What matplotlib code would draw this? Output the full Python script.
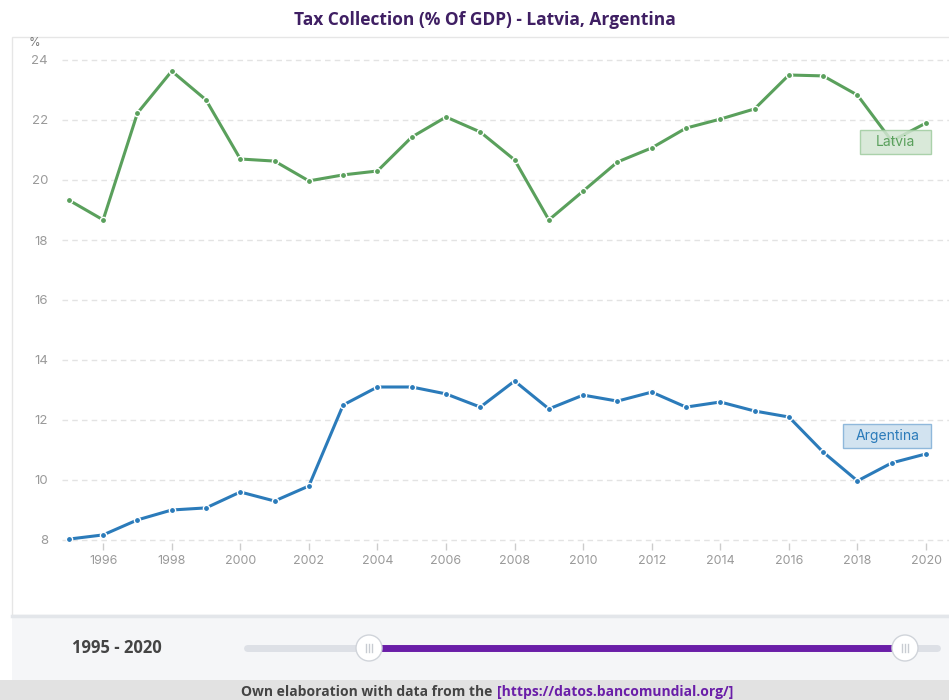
import matplotlib.pyplot as plt
from matplotlib.patches import Rectangle, Circle
from matplotlib.lines import Line2D

years = list(range(1995, 2021))
latvia = [19.33, 18.67, 22.23, 23.63, 22.67, 20.7, 20.63, 19.97, 20.17, 20.3,
          21.43, 22.1, 21.6, 20.67, 18.67, 19.63, 20.6, 21.07, 21.73, 22.03,
          22.37, 23.5, 23.47, 22.83, 21.3, 21.9]
argentina = [8.03, 8.17, 8.67, 9.0, 9.07, 9.6, 9.3, 9.8, 12.5, 13.1,
             13.1, 12.87, 12.43, 13.3, 12.37, 12.83, 12.63, 12.93, 12.43, 12.6,
             12.3, 12.1, 10.93, 9.97, 10.57, 10.87]
y_ticks = [8, 10, 12, 14, 16, 18, 20, 22, 24]
x_ticks = list(range(1996, 2021, 2))

W, H = 949, 700
green = "#5aa05c"
blue = "#2b7bba"
purple = "#6a1ea8"

fig = plt.figure(figsize=(W / 100, H / 100), dpi=100)
fig.patch.set_facecolor("white")

def fx(px):
    return px / W

def fy(py):
    return 1 - py / H

# chart container border
fig.patches.append(Rectangle((fx(12), fy(615)), fx(960) - fx(12), fy(37) - fy(615),
                             transform=fig.transFigure, facecolor="white",
                             edgecolor="#e6e6e6", lw=1, zorder=-2))

ax = fig.add_axes([fx(62), fy(543), fx(949) - fx(62), fy(57) - fy(543)])
ax.set_zorder(2)
ax.set_xlim(1994.8, 2020.67)
ax.set_ylim(7.9, 24.1)
for s in ax.spines.values():
    s.set_visible(False)
ax.set_yticks(y_ticks)
ax.set_xticks(x_ticks)
ax.grid(axis="y", color="#e3e3e3", linestyle=(0, (4, 3)), lw=1)
ax.tick_params(axis="y", length=0, pad=10, labelsize=9.5, labelcolor="#9a9a9a")
ax.tick_params(axis="x", length=5, width=1, color="#cccccc", pad=4,
               labelsize=9, labelcolor="#9a9a9a")
for lab in ax.get_xticklabels() + ax.get_yticklabels():
    lab.set_fontfamily("Inter")
ax.set_facecolor("none")

ax.plot(years, latvia, color=green, lw=2.2, marker="o", ms=4.5,
        mec="white", mew=1.0, clip_on=False, zorder=3)
ax.plot(years, argentina, color=blue, lw=2.2, marker="o", ms=4.5,
        mec="white", mew=1.0, clip_on=False, zorder=3)

# series labels (boxes in data units)
ax.add_patch(Rectangle((2018.07, 20.87), 2.08, 0.8, facecolor="#d3e6d3",
                       edgecolor="#9fcb9f", lw=1, alpha=0.85, zorder=4,
                       clip_on=False))
ax.text(2019.11, 21.27, "Latvia", ha="center", va="center", fontsize=10,
        color=green, family="Inter", zorder=5)
ax.add_patch(Rectangle((2017.58, 11.07), 2.57, 0.8, facecolor="#cde0ef",
                       edgecolor="#86b2d8", lw=1, alpha=0.9, zorder=4,
                       clip_on=False))
ax.text(2018.87, 11.47, "Argentina", ha="center", va="center", fontsize=10,
        color=blue, family="Inter", zorder=5)

fig.text(fx(34), fy(43), "%", ha="center", va="center", fontsize=8.5,
         color="#777777", family="Inter")

fig.text(fx(485), fy(20), "Tax Collection (% Of GDP) - Latvia, Argentina",
         ha="center", va="center", fontsize=12.5, fontweight="bold",
         color="#3f1f63", family="Open Sans")

# range slider panel
fig.patches.append(Rectangle((fx(12), fy(680)), fx(960) - fx(12), fy(616) - fy(680),
                             transform=fig.transFigure, facecolor="#f5f6f8",
                             edgecolor="none", zorder=-1))
fig.lines.append(Line2D([fx(12), fx(949)], [fy(616), fy(616)],
                        transform=fig.transFigure, color="#e3e6ea", lw=2.5))
fig.text(fx(117), fy(648), "1995 - 2020", ha="center", va="center",
         fontsize=12, fontweight="bold", color="#444444", family="Open Sans")
fig.lines.append(Line2D([fx(247), fx(937)], [fy(648), fy(648)],
                        transform=fig.transFigure, color="#dde0e6", lw=5,
                        solid_capstyle="round"))
fig.lines.append(Line2D([fx(369), fx(905)], [fy(648), fy(648)],
                        transform=fig.transFigure, color=purple, lw=5))
for hx in (369, 905):
    fig.patches.append(Circle((hx / 100, (H - 648) / 100), 0.13,
                              transform=fig.dpi_scale_trans,
                              facecolor="white", edgecolor="#d0d4da", lw=1,
                              zorder=5))
    for dx in (-3, 0, 3):
        fig.lines.append(Line2D([fx(hx + dx), fx(hx + dx)], [fy(644), fy(652)],
                                transform=fig.transFigure, color="#c8ccd2",
                                lw=1, zorder=6))

# footer
fig.patches.append(Rectangle((0, 0), 1, fy(680), transform=fig.transFigure,
                             facecolor="#e2e2e2", edgecolor="none", zorder=-1))
fig.text(fx(492), fy(692), "Own elaboration with data from the", ha="right",
         va="center", fontsize=10, fontweight="bold", color="#444444",
         family="Open Sans")
fig.text(fx(497), fy(692), "[https://datos.bancomundial.org/]", ha="left",
         va="center", fontsize=10, fontweight="bold", color=purple,
         family="Open Sans")

fig.savefig("out.png", dpi=100)
